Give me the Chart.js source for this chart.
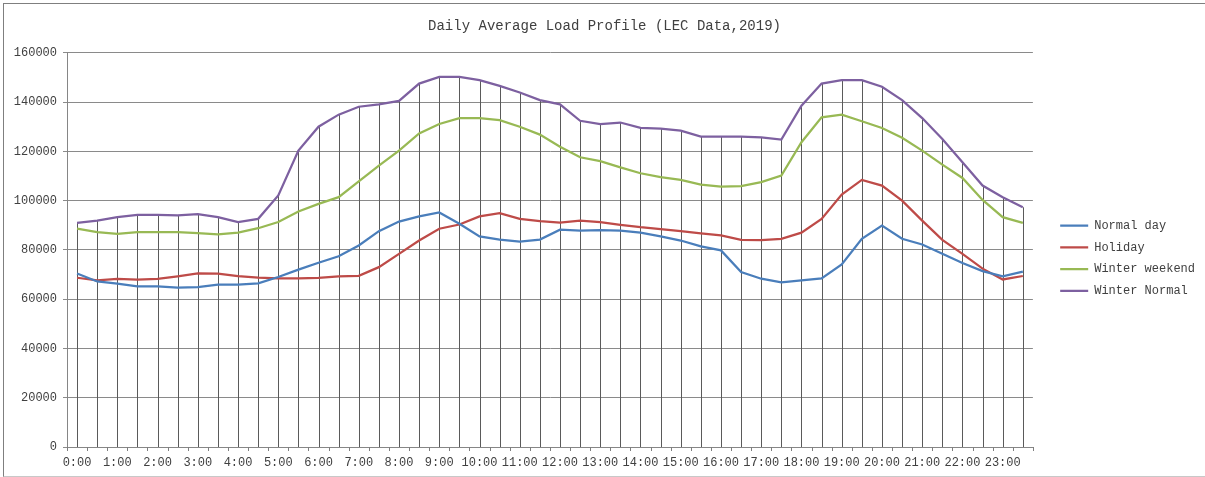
<!DOCTYPE html>
<html>
<head>
<meta charset="utf-8">
<script src="https://cdn.jsdelivr.net/npm/chart.js@4.4.1/dist/chart.umd.min.js"></script>
<style>
    html, body { margin: 0; padding: 0; background: #fff; }
    #wrap { position: relative; width: 1205px; height: 477px; }
    #frame {
        position: absolute; left: 3px; top: 3px; width: 1210px; height: 472px;
        border-left: 1px solid #7f7f7f; border-top: 1px solid #7f7f7f; border-bottom: 1px solid #c8c8c8;
        pointer-events: none;
    }
</style>
</head>
<body>
<div id="wrap">
    <canvas id="loadChart" width="1205" height="477"></canvas>
    <div id="frame"></div>
</div>
<script>
// half-hourly slots, only the full hours get a label on the axis
const timeLabels = [
    '0:00', '0:30', '1:00', '1:30', '2:00', '2:30', '3:00', '3:30',
    '4:00', '4:30', '5:00', '5:30', '6:00', '6:30', '7:00', '7:30',
    '8:00', '8:30', '9:00', '9:30', '10:00', '10:30', '11:00', '11:30',
    '12:00', '12:30', '13:00', '13:30', '14:00', '14:30', '15:00', '15:30',
    '16:00', '16:30', '17:00', '17:30', '18:00', '18:30', '19:00', '19:30',
    '20:00', '20:30', '21:00', '21:30', '22:00', '22:30', '23:00', '23:30',
];

const normalDay = [
    70400, 67200, 66300, 65200, 65200, 64700, 64900, 65900, 65900, 66400, 69000, 72000,
    74800, 77400, 81800, 87600, 91500, 93600, 95200, 90600, 85500, 84200, 83400, 84200,
    88200, 87800, 88000, 87800, 87000, 85500, 83800, 81400, 79800, 71000, 68300, 66800,
    67600, 68400, 74100, 84500, 89900, 84500, 82200, 78400, 74700, 71400, 69300, 71200,
];
const holiday = [
    68700, 67600, 68200, 67900, 68200, 69300, 70500, 70400, 69400, 68700, 68400, 68400,
    68600, 69300, 69500, 73000, 78400, 83800, 88600, 90300, 93600, 94900, 92600, 91700,
    91100, 91900, 91300, 90200, 89200, 88400, 87600, 86700, 85900, 84100, 84000, 84500,
    87000, 92600, 102500, 108400, 106100, 100000, 91900, 84100, 78400, 72400, 68000, 69400,
];
const winterWeekend = [
    88600, 87200, 86500, 87200, 87200, 87200, 86800, 86300, 87000, 88800, 91300, 95600,
    98700, 101400, 107800, 114200, 120300, 127300, 131100, 133500, 133500, 132700, 130000, 126800,
    121900, 117600, 116000, 113500, 111100, 109500, 108400, 106500, 105700, 105900, 107500, 110200,
    123700, 133800, 134900, 132200, 129500, 125500, 120300, 114600, 109200, 100300, 93300, 91000,
];
const winterNormal = [
    91000, 91900, 93300, 94200, 94200, 94000, 94500, 93300, 91300, 92600, 102100, 120300,
    130000, 134900, 138100, 139100, 140500, 147500, 150200, 150200, 148900, 146600, 143900, 140800,
    139100, 132400, 131100, 131700, 129500, 129200, 128400, 126000, 126000, 126000, 125700, 124800,
    138500, 147500, 148900, 148900, 146200, 140800, 133500, 125000, 115600, 106100, 101400, 97300,
];

const seriesNames = ['Normal day', 'Holiday', 'Winter weekend', 'Winter Normal'];
const seriesColors = ['#4a7ebb', '#be4b48', '#98b954', '#7d60a0'];

const monoFont = '"Liberation Mono", "DejaVu Sans Mono", monospace';
const textColor = '#404040';

// Excel style drop lines from the highest point down to the axis,
// plus category tick marks sitting between the points
const dropLines = {
    id: 'dropLines',
    beforeDatasetsDraw(chart) {
        const { ctx, scales: { x, y } } = chart;
        const base = y.getPixelForValue(0);
        ctx.save();
        ctx.strokeStyle = '#5a5a5a';
        ctx.lineWidth = 1;
        ctx.beginPath();
        timeLabels.forEach((_, i) => {
            const top = Math.max(...chart.data.datasets.map(d => d.data[i]));
            const px = Math.round(x.getPixelForValue(i)) + 0.5;
            ctx.moveTo(px, base);
            ctx.lineTo(px, y.getPixelForValue(top));
        });
        ctx.stroke();
        ctx.restore();
    },
    afterDraw(chart) {
        const { ctx, scales: { x, y } } = chart;
        const base = y.getPixelForValue(0);
        const step = x.getPixelForValue(1) - x.getPixelForValue(0);
        ctx.save();
        ctx.strokeStyle = '#7f7f7f';
        ctx.lineWidth = 1;
        ctx.beginPath();
        for (let i = 0; i <= timeLabels.length; i++) {
            const px = Math.round(x.getPixelForValue(i) - step / 2) + 0.5;
            ctx.moveTo(px, base);
            ctx.lineTo(px, base + 4);
        }
        ctx.stroke();
        ctx.restore();
    },
};

const ctx = document.getElementById('loadChart');
new Chart(ctx, {
    type: 'line',
    data: {
        labels: timeLabels,
        datasets: [normalDay, holiday, winterWeekend, winterNormal].map((values, i) => ({
            label: seriesNames[i],
            data: values,
            borderColor: seriesColors[i],
            backgroundColor: seriesColors[i],
            borderWidth: 2.25,
            pointRadius: 0,
            tension: 0,
            fill: false,
        })),
    },
    options: {
        responsive: false,
        animation: false,
        layout: { padding: { left: 4, top: 4, right: 0, bottom: 2.6 } },
        scales: {
            x: {
                offset: true,
                grid: { display: false, drawTicks: true, tickLength: 5 },
                border: { display: true, color: '#868686' },
                ticks: {
                    autoSkip: false,
                    maxRotation: 0,
                    minRotation: 0,
                    padding: 4,
                    color: textColor,
                    font: { family: monoFont, size: 12 },
                    callback: (value, index) => (index % 2 === 0 ? timeLabels[index] : ''),
                },
            },
            y: {
                min: 0,
                max: 160000,
                grid: { color: '#8a8a8a', tickLength: 4 },
                border: { color: '#868686' },
                ticks: {
                    stepSize: 20000,
                    padding: 6,
                    color: textColor,
                    font: { family: monoFont, size: 12 },
                    callback: v => String(v),
                },
                afterFit(scale) { scale.width = 63; },
            },
            spacer: {
                position: 'right',
                display: true,
                grid: { display: false, drawTicks: false },
                border: { display: false },
                ticks: { display: false },
                afterFit(scale) { scale.width = 17.6; },
            },
        },
        plugins: {
            title: {
                display: true,
                text: 'Daily Average Load Profile (LEC Data,2019)',
                color: textColor,
                font: { family: monoFont, size: 14, weight: 'normal' },
                padding: { top: 14, bottom: 18 },
            },
            legend: {
                position: 'right',
                align: 'center',
                title: {
                    display: true,
                    text: ' ',
                    font: { family: monoFont, size: 12 },
                    padding: { top: 0, bottom: 23.6 },
                },
                labels: {
                    color: textColor,
                    font: { family: monoFont, size: 12 },
                    usePointStyle: true,
                    pointStyle: 'line',
                    pointStyleWidth: 28,
                    padding: 9.7,
                },
            },
            tooltip: { enabled: false },
        },
    },
    plugins: [dropLines],
});
</script>
</body>
</html>
